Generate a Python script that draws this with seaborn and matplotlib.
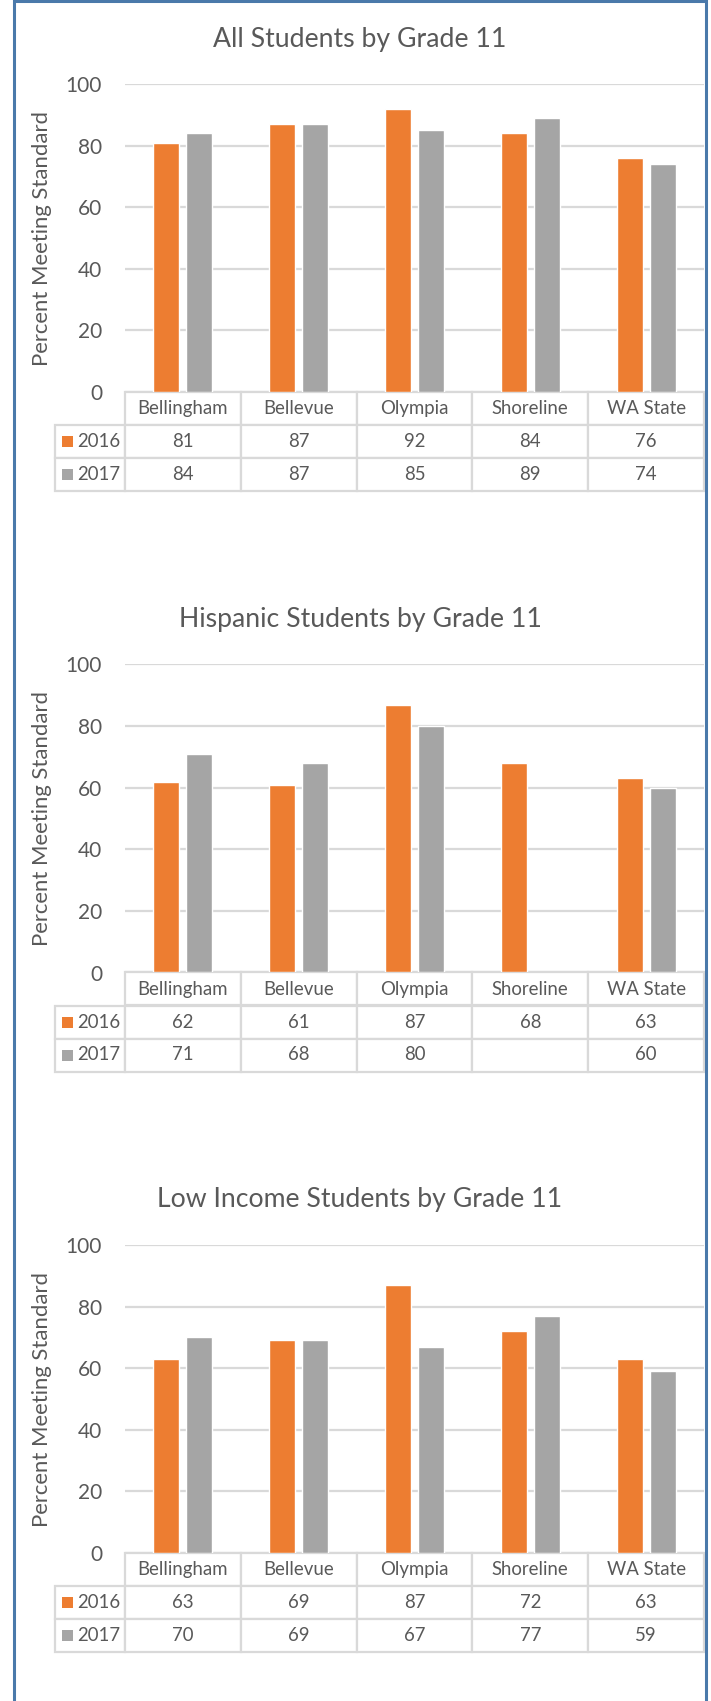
import numpy as np
import pandas as pd
import matplotlib
matplotlib.use("Agg")
import matplotlib.pyplot as plt
from matplotlib.patches import Rectangle
import seaborn as sns

# ---- data ----
districts = ["Bellingham", "Bellevue", "Olympia", "Shoreline", "WA State"]
years = ["2016", "2017"]
titles = ["All Students by Grade 11", "Hispanic Students by Grade 11",
          "Low Income Students by Grade 11"]
all_2016 = [81, 87, 92, 84, 76]
all_2017 = [84, 87, 85, 89, 74]
hisp_2016 = [62, 61, 87, 68, 63]
hisp_2017 = [71, 68, 80, np.nan, 60]
low_2016 = [63, 69, 87, 72, 63]
low_2017 = [70, 69, 67, 77, 59]
y_ticks = [0, 20, 40, 60, 80, 100]
y_label = "Percent Meeting Standard"

panels = [(all_2016, all_2017), (hisp_2016, hisp_2017), (low_2016, low_2017)]

ORANGE = "#ED7D31"
GRAY = "#A5A5A5"
GRID = "#D9D9D9"
TXT = "#595959"
BLUE = "#4A79AA"

sns.set_theme(style="white")
plt.rcParams["font.family"] = ["Lato", "DejaVu Sans"]

W, H = 711, 1701
fig = plt.figure(figsize=(W / 100, H / 100), dpi=100)
fig.patch.set_facecolor("white")

ax_l, ax_w, ax_h = 125, 579, 308
step = 580.5
lab_w = 70  # row-label column width in px
row_h = 33

for i, (v16, v17) in enumerate(panels):
    top = 84 + step * i
    ax = fig.add_axes([ax_l / W, 1 - (top + ax_h) / H, ax_w / W, ax_h / H])
    df = pd.DataFrame({
        "District": districts * 2,
        "Year": [years[0]] * len(districts) + [years[1]] * len(districts),
        "Percent": list(v16) + list(v17),
    })
    sns.barplot(data=df, x="District", y="Percent", hue="Year",
                order=districts, hue_order=years,
                palette=[ORANGE, GRAY], saturation=1, width=0.57, gap=0.21,
                legend=False, ax=ax, errorbar=None)
    ax.set_xlim(-0.5, len(districts) - 0.5)
    ax.set_ylim(0, 100)
    ax.set_yticks(y_ticks)
    ax.set_yticklabels([str(t) for t in y_ticks], fontsize=15, color=TXT)
    ax.tick_params(axis="y", length=0, pad=16.5)
    ax.set_xticks([])
    ax.set_xlabel("")
    ax.set_ylabel("")
    for s in ax.spines.values():
        s.set_visible(False)
    ax.set_axisbelow(True)
    ax.yaxis.grid(True, color=GRID, linewidth=1.6)
    ax.xaxis.grid(False)

    # data table: first column holds the series keys
    cell_text = [[""] + ["" if pd.isna(v) else f"{v:.0f}" for v in row]
                 for row in (v16, v17)]
    tbl_h = 3 * row_h / ax_h
    x0 = -lab_w / ax_w
    tbl = ax.table(cellText=cell_text, colLabels=[""] + districts,
                   cellLoc="center",
                   bbox=[x0, -tbl_h, 1 - x0, tbl_h])
    tbl.auto_set_font_size(False)
    tbl.set_fontsize(13.4)
    for (r, c), cell in tbl.get_celld().items():
        cell.set_edgecolor(GRID)
        cell.set_linewidth(1.6)
        cell.set_height(1.0)
        cell.set_width(lab_w if c == 0 else ax_w / len(districts))
        cell.get_text().set_color(TXT)
        cell.set_facecolor("white")
    tbl[0, 0].visible_edges = "open"
    tbl[0, 0].set_facecolor("none")
    # row labels with colour keys
    for k, (yr, col) in enumerate(zip(years, [ORANGE, GRAY])):
        yc = -tbl_h + (1.5 - k) * row_h / ax_h
        ax.add_patch(Rectangle(((62 - ax_l) / ax_w, yc - 5.5 / ax_h), 11 / ax_w, 11 / ax_h,
                               transform=ax.transAxes, clip_on=False,
                               facecolor=col, edgecolor="none", zorder=5))
        ax.text((77 - ax_l) / ax_w, yc, yr, transform=ax.transAxes,
                ha="left", va="center", fontsize=13.4, color=TXT, zorder=5)

    # title and y label
    fig.text(360 / W, 1 - (top - 45) / H, titles[i], ha="center", va="center",
             fontsize=19.2, color=TXT)
    fig.text(42 / W, 1 - (top + ax_h / 2) / H, y_label, rotation=90,
             ha="center", va="center", fontsize=15.9, color=TXT)

# outer border (open at the bottom of the image)
fig.patches.append(Rectangle((14 / W, -0.01), (706 - 14) / W, 1.01 - 1.5 / H,
                             transform=fig.transFigure, fill=False,
                             edgecolor=BLUE, linewidth=2.2, zorder=10))

fig.savefig("out.png", dpi=100)
